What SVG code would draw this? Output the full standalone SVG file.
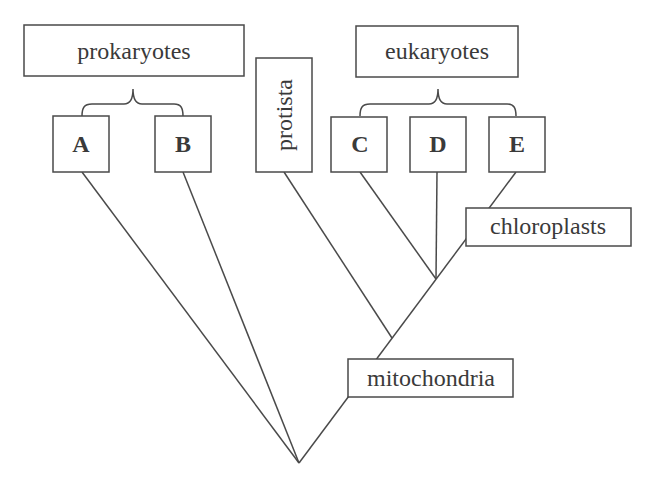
<svg xmlns="http://www.w3.org/2000/svg" width="668" height="490" viewBox="0 0 668 490">
<style>
.box{fill:#fff;stroke:#4a4a4a;stroke-width:1.5}
.ln{fill:none;stroke:#4a4a4a;stroke-width:1.5}
.t{font-family:"Liberation Serif",serif;font-size:24px;fill:#3a3a3a;text-anchor:middle}
.b{font-weight:bold}
</style>
<rect width="668" height="490" fill="#fff"/>
<g id="connectors">
<line class="ln" x1="82" y1="172" x2="299" y2="463"/>
<line class="ln" x1="183" y1="172" x2="299" y2="463"/>
<line class="ln" x1="284" y1="172" x2="392" y2="338"/>
<line class="ln" x1="360" y1="172" x2="436" y2="279"/>
<line class="ln" x1="437" y1="172" x2="436" y2="279"/>
<line class="ln" x1="299" y1="463" x2="516" y2="172"/>
<path class="ln" d="M82 116 C82 108 84 104 92 104 L124 104 C130 104 133 100 133 89 C133 100 136 104 142 104 L174 104 C181 104 183 108 183 116"/>
<path class="ln" d="M360 116 C360 108 362 104 370 104 L429 104 C435 104 438 100 438 89 C438 100 441 104 447 104 L507 104 C514 104 516 108 516 116"/>
</g>
<g id="prokaryotes"><rect class="box" x="24" y="25" width="220" height="51"/><text class="t" x="134" y="59">prokaryotes</text></g>
<g id="eukaryotes"><rect class="box" x="356" y="26" width="162" height="51"/><text class="t" x="437" y="59">eukaryotes</text></g>
<g id="A"><rect class="box" x="53" y="116" width="56" height="56"/><text class="t b" x="81" y="152">A</text></g>
<g id="B"><rect class="box" x="155" y="116" width="56" height="56"/><text class="t b" x="183" y="152">B</text></g>
<g id="protista"><rect class="box" x="256" y="58" width="56" height="114"/><text class="t" transform="translate(292 115) rotate(-90)">protista</text></g>
<g id="C"><rect class="box" x="331" y="117" width="56" height="55"/><text class="t b" x="360" y="152">C</text></g>
<g id="D"><rect class="box" x="410" y="117" width="56" height="55"/><text class="t b" x="438" y="152">D</text></g>
<g id="E"><rect class="box" x="489" y="117" width="56" height="55"/><text class="t b" x="517" y="152">E</text></g>
<g id="chloroplasts"><rect class="box" x="466" y="208" width="165" height="38"/><text class="t" x="548" y="234">chloroplasts</text></g>
<g id="mitochondria"><rect class="box" x="348" y="359" width="165" height="38"/><text class="t" x="431" y="386">mitochondria</text></g>
</svg>
